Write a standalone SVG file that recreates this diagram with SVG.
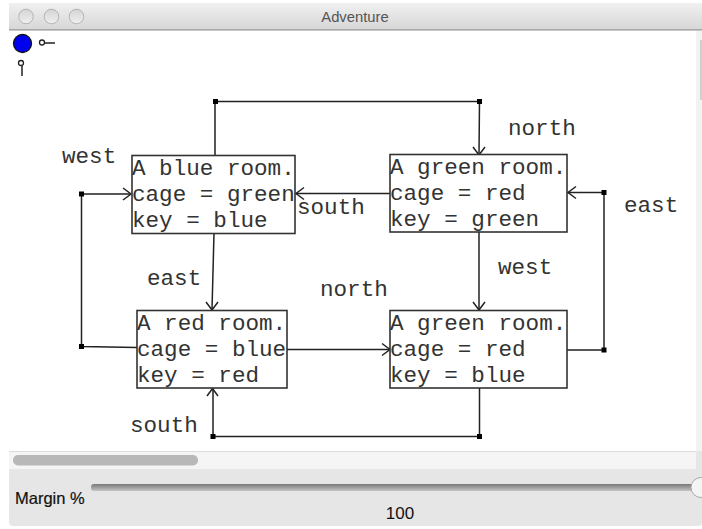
<svg xmlns="http://www.w3.org/2000/svg" width="702" height="529" viewBox="0 0 702 529">
<style>
.room{fill:#fff;stroke:#333;stroke-width:1.6}
.t{font-family:"Liberation Mono",monospace;font-size:22.600px;fill:#333}
.c{fill:none;stroke:#222;stroke-width:1.5}
.d{fill:#000}
.h{fill:none;stroke:#222;stroke-width:1.5}
.b{fill:url(#btn);stroke:#b4b4b4;stroke-width:1}
</style>
<defs>
<linearGradient id="title" x1="0" y1="0" x2="0" y2="1"><stop offset="0" stop-color="#f0f0f0"/><stop offset="1" stop-color="#d6d6d6"/></linearGradient>
<linearGradient id="btn" x1="0" y1="0" x2="0" y2="1"><stop offset="0" stop-color="#d4d4d4"/><stop offset="1" stop-color="#f0f0f0"/></linearGradient>
<linearGradient id="track" x1="0" y1="0" x2="0" y2="1"><stop offset="0" stop-color="#777"/><stop offset="1" stop-color="#c4c4c4"/></linearGradient>
</defs>
<rect width="702" height="529" fill="#fff"/>
<g id="window">
<rect x="9" y="3" width="693" height="523" rx="4" fill="#e6e6e6"/>
<rect x="9" y="3" width="693" height="27" fill="url(#title)"/>
<rect x="9" y="29" width="693" height="1.500" fill="#a8a8a8"/>
<circle class="b" cx="26" cy="16.500" r="7.300"/>
<circle class="b" cx="51.500" cy="16.500" r="7.300"/>
<circle class="b" cx="76.500" cy="16.500" r="7.300"/>
<text x="355" y="22" text-anchor="middle" font-family="'Liberation Sans',sans-serif" font-size="14.800" fill="#555">Adventure</text>
<rect x="9" y="31" width="687" height="420" fill="#fff"/>
<rect x="696" y="31" width="6" height="420" fill="#f2f2f2"/>
<rect x="700" y="40" width="2" height="60" fill="#d0d0d0"/>
<rect x="9" y="451" width="687" height="18" fill="#f5f5f5"/>
<rect x="9" y="451" width="687" height="1" fill="#dcdcdc"/>
<rect x="13" y="455" width="185" height="10.500" rx="5" fill="#b8b8b8"/>
<rect x="696" y="451" width="6" height="18" fill="#e6e6e6"/>
<rect x="91" y="484" width="611" height="7" rx="3" fill="url(#track)"/>
<circle cx="701" cy="487.500" r="10" fill="#f4f4f4" stroke="#aaa"/>
<text x="15" y="504" font-family="'Liberation Sans',sans-serif" font-size="16.500" fill="#111" stroke="#111" stroke-width="0.200">Margin %</text>
<text x="400" y="519" text-anchor="middle" font-family="'Liberation Sans',sans-serif" font-size="17" fill="#111">100</text>
</g>
<g id="legend">
<circle cx="22.500" cy="43.500" r="9" fill="#0000f0" stroke="#111" stroke-width="1.300"/>
<circle cx="42" cy="42.500" r="2.500" fill="#fff" stroke="#222" stroke-width="1.300"/>
<path class="c" d="M44.500 43H55"/>
<circle cx="21" cy="63" r="2.500" fill="#fff" stroke="#222" stroke-width="1.300"/>
<path class="c" d="M22 65.500V76"/>
</g>
<g id="connectors">
<path class="c" d="M215 155V101.500H479.500L479 155"/>
<path class="h" d="M473 147L479 155L485 147"/>
<path class="c" d="M390 193.500H296"/>
<path class="h" d="M304 187.500L296 193.500L304 199.500"/>
<path class="c" d="M214 233L212 310"/>
<path class="h" d="M206 302L212 310L218 302"/>
<path class="c" d="M479 232V310"/>
<path class="h" d="M473 302L479 310L485 302"/>
<path class="c" d="M137 347.500L81.500 346.500V194H131"/>
<path class="h" d="M123 188L131 194L123 200"/>
<path class="c" d="M287 349.500H390"/>
<path class="h" d="M382 343.500L390 349.500L382 355.500"/>
<path class="c" d="M567 350L604 350V192.500H568"/>
<path class="h" d="M576 186.500L568 192.500L576 198.500"/>
<path class="c" d="M479.500 388V436.500H213V388.500"/>
<path class="h" d="M207 396L212.500 388.500L218 396"/>
<rect class="d" x="213" y="99" width="5" height="5"/>
<rect class="d" x="477" y="99" width="5" height="5"/>
<rect class="d" x="79" y="191.500" width="5" height="5"/>
<rect class="d" x="79" y="344" width="5" height="5"/>
<rect class="d" x="601.500" y="190" width="5" height="5"/>
<rect class="d" x="601.500" y="347.500" width="5" height="5"/>
<rect class="d" x="210.500" y="434" width="5" height="5"/>
<rect class="d" x="477" y="434" width="5" height="5"/>
</g>
<g id="room-blue">
<rect class="room" x="132" y="155.500" width="163" height="78"/>
<text class="t" x="132" y="175">A blue room.</text>
<text class="t" x="132" y="201">cage = green</text>
<text class="t" x="132" y="227">key = blue</text>
</g>
<g id="room-green-1">
<rect class="room" x="390" y="154.500" width="177" height="77.500"/>
<text class="t" x="390" y="174">A green room.</text>
<text class="t" x="390" y="200">cage = red</text>
<text class="t" x="390" y="226">key = green</text>
</g>
<g id="room-red">
<rect class="room" x="137" y="310.500" width="150" height="77.500"/>
<text class="t" x="137" y="330">A red room.</text>
<text class="t" x="137" y="356">cage = blue</text>
<text class="t" x="137" y="382">key = red</text>
</g>
<g id="room-green-2">
<rect class="room" x="390" y="310.500" width="177" height="77.500"/>
<text class="t" x="390" y="330">A green room.</text>
<text class="t" x="390" y="356">cage = red</text>
<text class="t" x="390" y="382">key = blue</text>
</g>
<g id="labels">
<text class="t" x="508" y="135">north</text>
<text class="t" x="62" y="163">west</text>
<text class="t" x="297" y="214">south</text>
<text class="t" x="624" y="212">east</text>
<text class="t" x="147" y="285">east</text>
<text class="t" x="498" y="274">west</text>
<text class="t" x="320" y="296">north</text>
<text class="t" x="130" y="432">south</text>
</g>
</svg>
